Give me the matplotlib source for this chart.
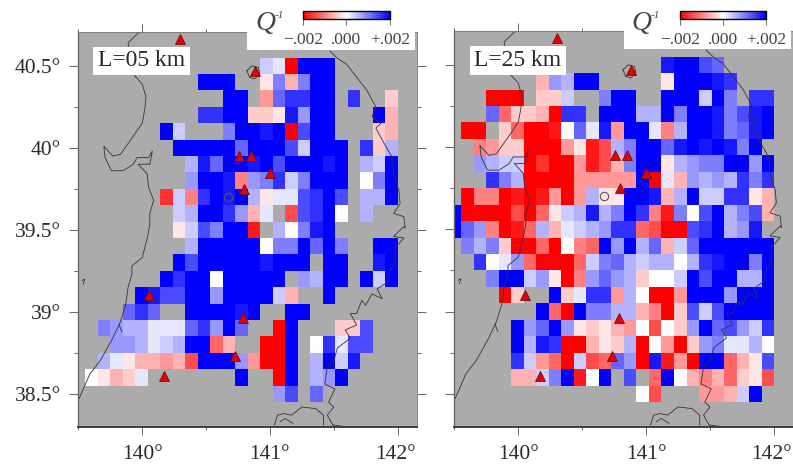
import numpy as np
import matplotlib
matplotlib.use("Agg")
import matplotlib.pyplot as plt
from matplotlib.colors import LinearSegmentedColormap
from matplotlib.patches import Rectangle
from matplotlib.transforms import ScaledTranslation

W, H = 793, 467
_ = np.nan

# grid cell edges (degrees)
lon_step = 0.098
lon_start = 139.455
lat_top = 40.55
lat_step = 0.1

# Q^-1 in units of 0.0002, rows north to south, first column only in the right panel
Q_UNIT = 0.0002
q_l05 = [
    [_, _,_,_,_,_, _,_,_,_,_, _,_,_,_,2, 1,-10,10,10,10, _,_,_,_,_],
    [_, _,_,_,_,_, _,_,_,_,10, 10,10,_,_,-1, 5,-3,5,10,10, _,_,_,_,_],
    [_, _,_,_,_,_, _,_,_,_,_, _,10,10,_,-4, 6,8,8,10,10, _,8,_,_,-2],
    [_, _,_,_,_,_, _,_,_,_,8, 8,10,10,-2,-2, -1,9,4,10,10, _,_,_,10,-3],
    [_, _,_,_,_,_, _,10,2,_,_, _,5,10,10,9, 10,-10,7,10,10, _,_,_,-2,-3],
    [_, _,_,_,_,_, _,_,10,10,10, 10,10,6,10,10, 10,7,2,10,10, 10,_,8,-2,3],
    [_, _,_,_,_,_, _,_,_,3,9, 6,10,10,9,10, 7,10,10,10,9, 10,_,3,2,10],
    [_, _,_,_,_,_, _,_,_,4,10, 10,9,-5,4,5, 8,2,5,10,10, 10,_,0,5,10],
    [_, _,_,_,_,_, _,-8,2,-5,8, 10,9,10,3,-1, 1,1,7,8,10, 7,_,3,3,10],
    [_, _,_,_,_,_, _,_,2,3,10, 10,8,4,-3,1, _,-7,7,8,10, 0,_,3,_,_],
    [_, _,_,_,_,_, _,_,-1,2,7, 5,10,10,-9,_, 3,0,5,9,10, _,_,_,_,_],
    [_, _,_,_,_,_, _,_,_,3,10, 10,10,10,10,0, 5,5,10,6,10, 5,_,_,10,10],
    [_, _,_,_,_,_, _,_,10,7,10, 10,10,10,10,9, 10,10,10,_,10, 10,_,_,9,10],
    [_, _,_,_,_,_, _,10,8,10,10, 0,10,10,10,10, 10,_,4,3,10, 10,_,10,2,10],
    [_, _,_,_,_,10, 9,7,7,10,10, 4,10,10,10,10, 2,-3,_,_,10, _,_,_,_,_],
    [_, _,_,_,6,8, 6,_,_,10,10, 10,10,9,10,_, _,10,10,_,_, _,_,_,_,_],
    [_, _,5,4,3,3, 1,1,1,6,8, 4,10,6,_,_, -10,10,_,_,_, -2,-2,7,_,_],
    [_, _,_,4,4,3, 1,2,3,10,10, -6,-3,_,_,-10, -10,10,_,0,8, 1,7,7,_,_],
    [_, _,3,1,-1,-3, -3,-4,-3,-7,10, 10,10,4,-4,-10, -10,10,_,3,10, 2,9,_,_,_],
    [_, 0,-1,-3,-2,1, _,_,_,_,_, _,_,10,_,_, -10,10,_,3,4, 10,_,_,_,_],
    [_, _,_,_,_,_, _,_,_,_,_, _,_,_,_,_, 4,7,_,6,_, _,_,_,_,_],
]
q_l25 = [
    [_, _,_,_,_,_, _,_,_,_,_, _,_,_,_,_, _,9,10,10,7, 6,_,_,_,_],
    [_, _,_,_,_,_, _,-3,4,3,10, 10,_,_,_,_, _,-1,10,10,10, 9,8,_,_,_],
    [_, _,_,-10,-10,-10, _,-2,-2,2,_, _,5,10,10,_, _,10,10,10,2, 10,5,_,8,8],
    [_, _,_,6,-6,-2, -2,-3,-10,8,8, _,10,10,10,3, 3,10,5,10,10, 9,5,7,9,10],
    [_, -10,-10,_,-2,-6, -10,-10,-9,0,6, 1,9,-4,10,10, 1,-5,3,10,10, 9,5,6,9,10],
    [_, _,-5,-4,-2,-2, -10,-10,-10,-4,-1, -9,-7,3,5,10, 10,6,9,10,9, 10,9,5,10,_],
    [_, _,4,3,2,2, -10,-8,-10,-10,-4, -9,-7,-3,5,10, 10,-1,3,4,5, 5,10,10,4,10],
    [_, _,_,8,5,3, -10,-10,-10,-10,-4, -4,-4,-4,-4,10, -10,1,-3,4,3, 4,3,8,5,8],
    [_, -10,-5,-5,-10,-9, -10,-9,-4,-10,-4, 3,-1,-1,10,10, 9,-3,3,10,2, 2,8,8,-1,-3],
    [10, -10,-10,-10,-10,-7, -10,-6,-1,2,3, 9,3,5,10,8, -5,-9,5,0,7, 10,3,5,7,-3],
    [10, 6,4,-5,-10,-9, -6,3,-3,1,2, 3,4,8,8,-6, -7,-10,-10,7,8, 10,3,4,9,_],
    [_, 5,3,5,-2,-10, -10,-6,-10,0,-5, -6,10,4,10,3, 6,-3,2,6,10, 10,10,10,10,10],
    [_, _,8,0,1,4, -6,-10,-10,-10,-6, 2,5,6,3,2, 3,3,0,3,8, 9,10,10,5,10],
    [_, _,_,5,10,10, 2,4,-1,-10,-5, 4,6,4,3,-2, 0,0,2,10,7, 10,10,3,3,10],
    [_, _,_,_,-10,-2, _,_,10,-2,1, 8,8,-4,3,0, -10,-10,-4,10,10, 10,4,10,10,10],
    [_, _,_,_,_,_, _,10,-6,-10,10, 5,5,3,3,-3, -5,-10,-2,7,2, 7,10,10,10,10],
    [_, _,_,_,_,10, 4,6,10,4,-1, -2,-1,-3,-4,0, -7,0,-2,4,10, 6,7,4,2,8],
    [_, _,_,_,_,10, 3,9,8,-10,-10, -3,-1,-2,3,-10, 0,-4,-10,-2,4, 5,1,1,3,0],
    [_, _,_,_,_,8, 2,-4,-6,-10,2, -7,-6,6,4,-10, 9,-9,-4,-10,10, 10,-6,-3,-1,7],
    [_, _,_,_,_,-3, -3,2,5,10,-9, 0,10,_,7,_, -6,10,0,-3,-5, -3,-6,-2,-1,-7],
    [_, _,_,_,_,_, _,_,_,_,_, _,_,_,_,0, -7,_,_,_,-4, -4,-3,2,10,_],
]

# volcanoes
volc_lon = [140.30, 140.88, 140.76, 140.85, 141.00, 140.80, 140.05, 140.79, 140.73, 140.17]
volc_lat = [40.665, 40.47, 39.95, 39.95, 39.845, 39.75, 39.10, 38.96, 38.73, 38.61]

# coast lines
west_lon = [140.00, 139.97, 139.89, 139.92, 139.94, 140.00, 140.03, 140.02, 140.00, 139.93, 139.83, 139.77,
            139.70, 139.71, 139.76, 139.85, 139.93, 139.96, 140.05, 140.08, 140.06, 139.97, 140.04, 140.05,
            140.09, 140.06, 140.06, 140.04, 140.00, 139.92, 139.92, 139.89, 139.87, 139.83, 139.77, 139.67,
            139.59, 139.50]
west_lat = [40.71, 40.70, 40.64, 40.49, 40.44, 40.39, 40.31, 40.23, 40.15, 40.07, 39.96, 39.95,
            40.01, 39.94, 39.86, 39.86, 39.90, 39.94, 39.94, 39.98, 39.90, 39.90, 39.84, 39.76,
            39.68, 39.60, 39.53, 39.45, 39.33, 39.28, 39.23, 39.15, 39.04, 38.94, 38.84, 38.70,
            38.62, 38.46]
east_lon = [141.47, 141.53, 141.60, 141.68, 141.76, 141.83, 141.80, 141.87, 141.83, 141.90, 141.96, 141.97,
            142.01, 142.02, 141.97, 142.05, 142.06, 142.05, 141.97, 142.05, 141.98, 141.98, 141.94, 141.92,
            141.84, 141.88, 141.80, 141.75, 141.72, 141.68, 141.63, 141.68, 141.59, 141.63, 141.53, 141.50,
            141.45, 141.43, 141.51, 141.46, 141.50, 141.45, 141.50]
east_lat = [40.59, 40.545, 40.51, 40.43, 40.35, 40.25, 40.19, 40.15, 40.12, 40.02, 39.94, 39.84,
            39.74, 39.66, 39.60, 39.58, 39.51, 39.52, 39.46, 39.45, 39.39, 39.31, 39.25, 39.18,
            39.14, 39.08, 39.11, 39.04, 39.07, 38.99, 38.99, 38.92, 38.89, 38.84, 38.78, 38.70,
            38.66, 38.56, 38.53, 38.45, 38.42, 38.37, 38.30]
bay_lon = [141.035, 141.06, 141.11, 141.17, 141.25, 141.36, 141.42, 141.42]
bay_lat = [38.31, 38.37, 38.38, 38.37, 38.42, 38.41, 38.37, 38.31]
bay2_lon = [141.08, 141.12, 141.18]
bay2_lat = [38.33, 38.35, 38.32]
bay3_lon = [141.50, 141.59]
bay3_lat = [38.31, 38.30]
towada_lon = [140.82, 140.84, 140.88, 140.92, 140.91, 140.86, 140.82]
towada_lat = [40.47, 40.43, 40.42, 40.45, 40.49, 40.50, 40.47]
island_lon = [139.53, 139.55, 139.54]
island_lat = [39.19, 39.20, 39.17]
sado_lon = [139.82, 139.84]
sado_lat = [38.92, 38.88]
lake_lon = [140.67]
lake_lat = [39.70]

xticks = [140, 141, 142]
xtick_labels = ['140°', '141°', '142°']
xticks_minor = [139.5, 140.5, 141.5]
yticks = [38.5, 39, 39.5, 40, 40.5]
ytick_labels = ['38.5°', '39°', '39.5°', '40°', '40.5°']
yticks_minor = [38.75, 39.25, 39.75, 40.25]
cbar_ticks = [-0.002, 0.0, 0.002]
cbar_labels = ['\u2212.002', '.000', '+.002']

plt.rcParams['font.family'] = ['Liberation Serif', 'DejaVu Serif']
cmap = LinearSegmentedColormap.from_list('q', ['#ff0000', '#ffffff', '#0000ff'])
GREY = '#ababab'


def px_rect(x0, y0, x1, y1):
    # pixel box (origin top left) to figure fractions
    return [x0 / W, 1 - y1 / H, (x1 - x0) / W, (y1 - y0) / H]


def panel(fig, rect, values, label, label_box, white_box, cbar_rect, q_xy, show_y):
    ax = fig.add_axes(px_rect(*rect))
    ax.set_facecolor(GREY)
    q = np.array(values, dtype=float) * Q_UNIT
    lon_edges = lon_start + lon_step * np.arange(q.shape[1] + 1)
    lat_edges = lat_top - lat_step * np.arange(q.shape[0] + 1)
    mesh = ax.pcolormesh(lon_edges, lat_edges, np.ma.masked_invalid(q), cmap=cmap,
                         vmin=-0.002, vmax=0.002, zorder=1, antialiased=False, linewidth=0)

    for lons, lats in [(west_lon, west_lat), (east_lon, east_lat), (bay_lon, bay_lat), (bay2_lon, bay2_lat),
                       (bay3_lon, bay3_lat), (towada_lon, towada_lat), (island_lon, island_lat),
                       (sado_lon, sado_lat)]:
        ax.plot(lons, lats, color='#333333', lw=0.6, zorder=2)
    ax.plot(lake_lon, lake_lat, 'o', ms=6, mfc='none', mec='#555555', mew=0.8, zorder=2)
    ax.plot(volc_lon, volc_lat, '^', ms=7.8, color='#e60000', mec='#701010', mew=0.6, zorder=3, clip_on=False)

    ax.set_xlim(139.5, 142.15)
    ax.set_ylim(38.298, 40.706)
    ax.set_xticks(xticks)
    ax.set_xticks(xticks_minor, minor=True)
    ax.set_xticklabels(xtick_labels, fontsize=15.5, color='#2a2a2a')
    ax.set_yticks(yticks)
    ax.set_yticks(yticks_minor, minor=True)
    ax.set_yticklabels(ytick_labels if show_y else [''] * len(yticks), fontsize=15.5, color='#2a2a2a')
    ax.tick_params(axis='x', which='major', top=True, length=6, width=0.7, color='#666666', pad=7)
    ax.tick_params(axis='x', which='minor', top=True, length=2.5, width=0.7, color='#666666')
    ax.tick_params(axis='y', which='major', right=True, length=6.5, width=0.7, color='#666666', pad=6)
    ax.tick_params(axis='y', which='minor', right=True, length=3, width=0.7, color='#666666')
    # last label sits right at the image edge, nudge it inside
    last = ax.get_xticklabels()[-1]
    last.set_transform(last.get_transform() + ScaledTranslation(-2 / 100, 0, fig.dpi_scale_trans))
    for side in ['right', 'top']:
        ax.spines[side].set_color('#777777')
        ax.spines[side].set_linewidth(0.6)
    ax.spines['left'].set_color('#666666')
    ax.spines['left'].set_linewidth(1.0)
    ax.spines['bottom'].set_color('#333333')
    ax.spines['bottom'].set_linewidth(1.3)

    # white boxes go over the map, the colour bar box also hides the top ticks
    for x0, y0, x1, y1 in [label_box, white_box]:
        fig_rect = px_rect(x0, y0, x1, y1)
        ax.add_patch(Rectangle((fig_rect[0], fig_rect[1]), fig_rect[2], fig_rect[3], transform=fig.transFigure,
                               facecolor='white', edgecolor='none', zorder=5, clip_on=False))
    fig.text((label_box[0] + label_box[2]) / 2 / W, 1 - (label_box[1] + label_box[3]) / 2 / H, label,
             ha='center', va='center', fontsize=17, color='#2a2a2a', zorder=6)

    cax = fig.add_axes(px_rect(*cbar_rect), zorder=6)
    cbar = fig.colorbar(mesh, cax=cax, orientation='horizontal')
    cbar.set_ticks(cbar_ticks)
    cbar.set_ticklabels(cbar_labels, fontsize=12.5, color='#444444')
    cbar.ax.tick_params(length=4.5, width=0.6, color='#555555', pad=5)
    cbar.outline.set_linewidth(1.0)
    cbar.outline.set_edgecolor('black')
    fig.text(q_xy[0] / W, 1 - q_xy[1] / H, 'Q', style='italic', fontsize=20, ha='center', va='center', color='#444444')
    fig.text((q_xy[0] + 14) / W, 1 - (q_xy[1] - 8) / H, '-1', style='italic', fontsize=8, ha='center', va='center',
             color='#444444')


fig = plt.figure(figsize=(W / 100, H / 100), dpi=100)
panel(fig, (78.3, 32, 416.7, 427), q_l05, 'L=05 km', (93, 47, 190, 75), (247, 0, 415, 50),
      (302.7, 11, 390, 19), (265, 23), True)
panel(fig, (454.3, 31, 793, 427), q_l25, 'L=25 km', (470, 46, 566, 75), (624, 0, 791, 49),
      (680, 11, 766, 19), (641, 23), False)
fig.savefig('out.png', dpi=100)
